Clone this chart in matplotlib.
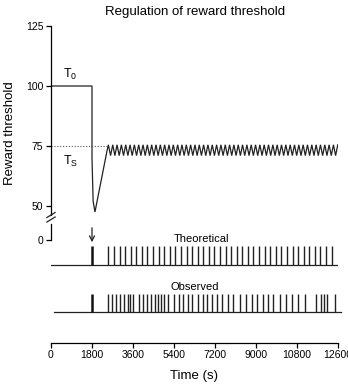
import matplotlib
matplotlib.use("Agg")
import matplotlib.pyplot as plt
import numpy as np

plt.rcParams['font.family'] = ['Liberation Sans', 'DejaVu Sans']
plt.rcParams['mathtext.default'] = 'regular'

# ---- data ----
title = "Regulation of reward threshold"
xticks = [0, 1800, 3600, 5400, 7200, 9000, 10800, 12600]
yticks = [50, 75, 100, 125]
reward_time = 1800
# threshold before/after the reward (drop and recovery)
thr_t = [0, 1800, 1800, 1850, 1930, 2470]
thr_v = [100, 100, 70, 52, 47.5, 73.5]
thr_peak = 75.5
thr_trough = 71.0
thr_set = 75
# times of the zigzag peaks in the regulated threshold
zig_peaks = [2520, 2710, 2900, 3090, 3280, 3470, 3660, 3850, 4040, 4230,
             4420, 4610, 4800, 4990, 5180, 5370, 5560, 5750, 5940, 6130,
             6320, 6510, 6700, 6890, 7080, 7270, 7460, 7650, 7840, 8030,
             8220, 8410, 8600, 8790, 8980, 9170, 9360, 9550, 9740, 9930,
             10120, 10310, 10500, 10690, 10880, 11070, 11260, 11450, 11640,
             11830, 12020, 12210, 12400, 12590]
theoretical = [2520, 2765, 3010, 3255, 3500, 3745, 3990, 4235, 4480, 4725,
               4970, 5215, 5460, 5705, 5950, 6195, 6440, 6685, 6930, 7175,
               7420, 7665, 7910, 8155, 8400, 8645, 8890, 9135, 9380, 9625,
               9870, 10115, 10360, 10605, 10850, 11095, 11340, 11585, 11830,
               12075, 12320]
observed = [2516, 2691, 2854, 3029, 3218, 3367, 3481, 3613, 3863, 4026,
            4201, 4377, 4566, 4711, 4829, 4974, 5150, 5413, 5619, 5808,
            6001, 6177, 6467, 6686, 6862, 7055, 7301, 7521, 7784, 8004,
            8297, 8561, 8811, 9057, 9320, 9540, 9760, 10054, 10317, 10567,
            10857, 11151, 11634, 11853, 11985, 12130, 12468]

# build the threshold line: drop, recovery, then zigzag peaks/troughs
zz_t, zz_v = list(thr_t), list(thr_v)
for i, p in enumerate(zig_peaks):
    if i > 0:
        zz_t.append((zig_peaks[i - 1] + p) / 2)
        zz_v.append(thr_trough)
    zz_t.append(p)
    zz_v.append(thr_peak)

W, H = 348, 385
def rect(x0, y0, x1, y1):
    return [x0 / W, 1 - y1 / H, (x1 - x0) / W, (y1 - y0) / H]

fig = plt.figure(figsize=(W / 100, H / 100), dpi=100)
lw = 0.9
fs = 7.5
ink = '#222222'

# ---- top panel ----
ax = fig.add_axes(rect(51, 26, 338, 215.6))
ax.set_xlim(0, 12600)
ax.set_ylim(46, 125)
for s in ['top', 'right', 'bottom']:
    ax.spines[s].set_visible(False)
ax.spines['left'].set_linewidth(lw)
ax.set_xticks([])
ax.set_yticks(yticks)
ax.tick_params(axis='y', length=3.5, width=lw, labelsize=fs, pad=2)
ax.plot(zz_t, zz_v, color=ink, lw=lw, solid_joinstyle='miter')
ax.plot([0, thr_t[-1]], [thr_set, thr_set], color='#555555', lw=0.8,
        linestyle=(0, (1, 1.6)))
ax.text(850, 101.5, "T$_0$", fontsize=9, ha='center', va='bottom')
ax.text(850, 71.5, "T$_S$", fontsize=9, ha='center', va='top')
ax.set_ylabel("Reward threshold", fontsize=9.5)
ax.yaxis.set_label_coords(-0.122, 0.433)
fig.text(195 / W, 1 - 12 / H, title, ha='center', va='center', fontsize=9.5)

# ---- bottom panel (coordinates: 343 - pixel row) ----
bx = fig.add_axes(rect(51, 215.6, 338, 343))
bx.set_xlim(0, 12600)
bx.set_ylim(0, 127.4)
for s in ['top', 'right']:
    bx.spines[s].set_visible(False)
bx.spines['left'].set_bounds(103, 119)
bx.spines['left'].set_linewidth(lw)
bx.spines['bottom'].set_linewidth(lw)
bx.set_yticks([103])
bx.set_yticklabels(["0"])
bx.set_xticks(xticks)
bx.set_xticklabels([str(x) for x in xticks])
bx.tick_params(axis='y', length=3.5, width=lw, labelsize=fs, pad=2)
bx.tick_params(axis='x', length=3.5, width=lw, labelsize=fs, pad=1.5)
bx.set_xlabel("Time (s)", fontsize=9.5, labelpad=7)

# break marks
for dy in [0, 4.5]:
    bx.plot([-180, 180], [121 + dy, 126 + dy], color=ink, lw=lw,
            clip_on=False)

# theoretical train
base_t, top_t = 78, 97
bx.plot([0, 12600], [base_t, base_t], color=ink, lw=lw)
bx.vlines(theoretical, base_t, top_t, color=ink, lw=1.0)
bx.vlines([reward_time], base_t, top_t, color='#111111', lw=1.8)
bx.text(6600, top_t + 2, "Theoretical", fontsize=8, ha='center',
        va='bottom')
bx.annotate("", xy=(reward_time, top_t + 1), xytext=(reward_time, 118),
            arrowprops=dict(arrowstyle='->', lw=0.9, color=ink,
                            mutation_scale=9))

# observed train
base_o, top_o = 31, 49
bx.plot([150, 12750], [base_o, base_o], color=ink, lw=lw,
        clip_on=False)
bx.vlines(observed, base_o, top_o, color=ink, lw=1.0)
bx.vlines([reward_time], base_o, top_o, color='#111111', lw=1.8)
bx.text(6300, top_o + 2, "Observed", fontsize=8, ha='center',
        va='bottom')

fig.savefig("out.png", dpi=100)
